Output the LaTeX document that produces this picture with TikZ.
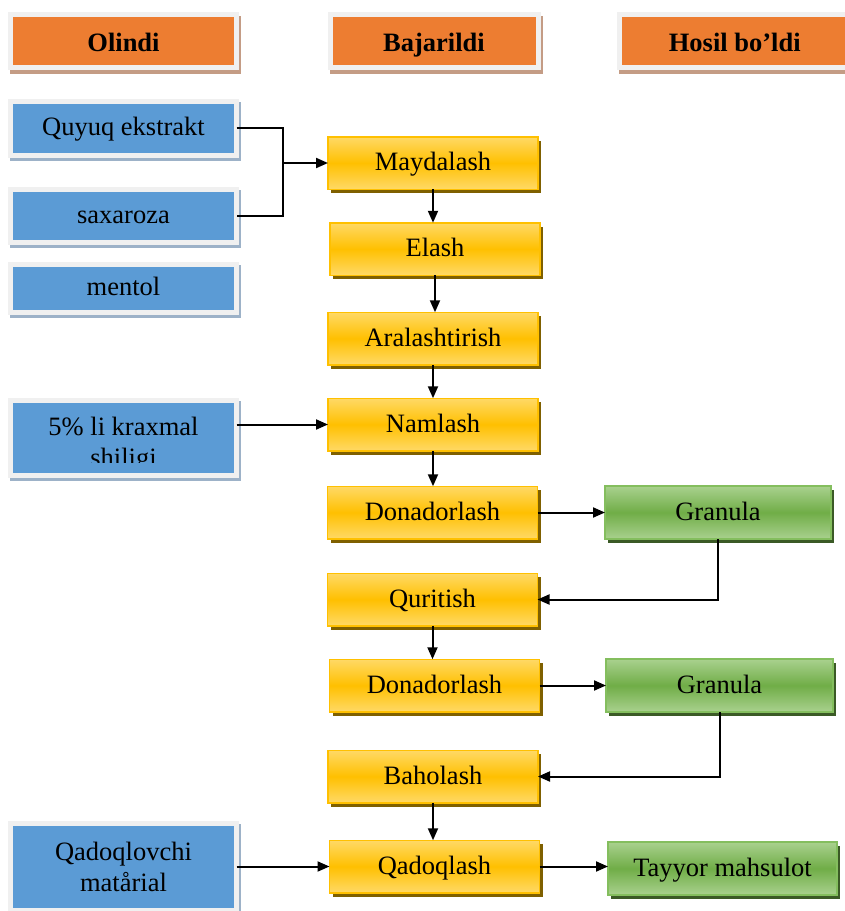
\documentclass[tikz,border=0pt]{standalone}
\usepackage{fontspec}
\setmainfont{Liberation Serif}
\usetikzlibrary{arrows.meta,shadows}

\definecolor{hdrorange}{HTML}{ED7D31}
\definecolor{hdrshadow}{HTML}{C49C85}
\definecolor{framegray}{HTML}{F0F0F0}
\definecolor{inblue}{HTML}{5B9BD5}
\definecolor{inshadow}{HTML}{9DB2C8}
\definecolor{ylight}{HTML}{FFD966}
\definecolor{ymid}{HTML}{FFC000}
\definecolor{yborder}{HTML}{FFC000}
\definecolor{yshadow}{HTML}{7F6000}
\definecolor{glight}{HTML}{A9D18E}
\definecolor{gmid}{HTML}{70AD47}
\definecolor{gborder}{HTML}{84BE5E}
\definecolor{gshadow}{HTML}{3B5A26}

\begin{document}
\begin{tikzpicture}[x=1pt,y=-1pt,
  every node/.style={font=\fontsize{26.5}{31}\selectfont, inner sep=0pt, outer sep=0pt},
  oneline/.style={text height=19pt, text depth=4pt},
  hdr/.style={fill=hdrorange, draw=framegray, line width=5pt, minimum height=52.5pt,
    font=\fontsize{26.5}{31}\selectfont\bfseries, text height=21pt, text depth=1pt,
    drop shadow={shadow xshift=2pt, shadow yshift=-4pt, fill=hdrshadow, draw=hdrshadow, opacity=1}},
  inbox/.style={fill=inblue, draw=framegray, line width=5pt, minimum width=226pt, align=center,
    drop shadow={shadow xshift=2pt, shadow yshift=-3pt, fill=inshadow, draw=inshadow, opacity=1}},
  stepbox/.style={oneline, draw=yborder, line width=1.5pt, top color=ylight, bottom color=ylight,
    middle color=ymid, minimum width=210pt, minimum height=52.5pt,
    drop shadow={shadow xshift=3pt, shadow yshift=-4pt, fill=yshadow, opacity=1}},
  outbox/.style={oneline, draw=gborder, line width=1.5pt, top color=glight, bottom color=glight,
    middle color=gmid, minimum height=53pt,
    drop shadow={shadow xshift=3pt, shadow yshift=-3.5pt, fill=gshadow, opacity=1}},
  link/.style={line width=2pt, draw=black},
  arr/.style={link, -{Triangle[length=12pt,width=10pt]}}
]
\clip (0,0) rectangle (845,911);
\fill[white] (0,0) rectangle (845,911);

% column headers
\node[hdr, minimum width=226pt] (hOl) at (123.5,41) {Olindi};
\node[hdr, minimum width=208pt] (hBa) at (434,41) {Bajarildi};
\node[hdr, minimum width=230.5pt] (hHo) at (734.75,41) {Hosil bo’ldi};

% inputs
\node[inbox, oneline, minimum height=54pt] (bQu) at (123.5,128) {Quyuq ekstrakt};
\node[inbox, oneline, minimum height=52.5pt] (bSa) at (123.5,216) {saxaroza};
\node[inbox, oneline, minimum height=48pt] (bMe) at (123.5,288) {mentol};
\node[inbox, minimum height=75pt] (bKr) at (123.5,437.5) {};
\begin{scope}
  \clip (13,403) rectangle (234,462);
  \node[align=center] (tKr) at (123.5,445) {5\% li kraxmal\\shiligi};
\end{scope}
\node[inbox, minimum height=87pt] (bQa) at (123.5,867) {Qadoqlovchi\\matårial};

% process steps
\node[stepbox] (yMa) at (433,163) {Maydalash};
\node[stepbox] (yEl) at (435,249) {Elash};
\node[stepbox] (yAr) at (433,338.5) {Aralashtirish};
\node[stepbox] (yNa) at (433,424.5) {Namlash};
\node[stepbox] (yDo1) at (432.5,512.5) {Donadorlash};
\node[stepbox] (yQu) at (432.5,599.5) {Quritish};
\node[stepbox] (yDo2) at (434.5,685.5) {Donadorlash};
\node[stepbox] (yBa) at (433,776.5) {Baholash};
\node[stepbox] (yQa) at (434.5,866.5) {Qadoqlash};

% outputs
\node[outbox, minimum width=226pt] (g1) at (718,512.5) {Granula};
\node[outbox, minimum width=227pt] (g2) at (719.5,685.5) {Granula};
\node[outbox, minimum width=229pt] (g3) at (722.5,868.5) {Tayyor mahsulot};

% connectors
\coordinate (jn) at (283,163);
\draw[link] (bQu.east) -| (jn) |- (bSa.east);
\draw[arr] (jn) -- (yMa.west);
\draw[arr] (yMa.south) -- (yMa.south |- yEl.north);
\draw[arr] (yEl.south) -- (yEl.south |- yAr.north);
\draw[arr] (yAr.south) -- (yAr.south |- yNa.north);
\draw[arr] (bKr.east |- yNa.west) -- (yNa.west);
\draw[arr] (yNa.south) -- (yNa.south |- yDo1.north);
\draw[arr] (yDo1.east) -- (g1.west);
\draw[arr] (g1.south) |- (yQu.east);
\draw[arr] (yQu.south) -- (yQu.south |- yDo2.north);
\draw[arr] (yDo2.east) -- (g2.west);
\draw[arr] (g2.south) |- (yBa.east);
\draw[arr] (yBa.south) -- (yBa.south |- yQa.north);
\draw[arr] (bQa.east |- yQa.west) -- (yQa.west);
\draw[arr] (yQa.east) -- (yQa.east -| g3.west);
\end{tikzpicture}
\end{document}
